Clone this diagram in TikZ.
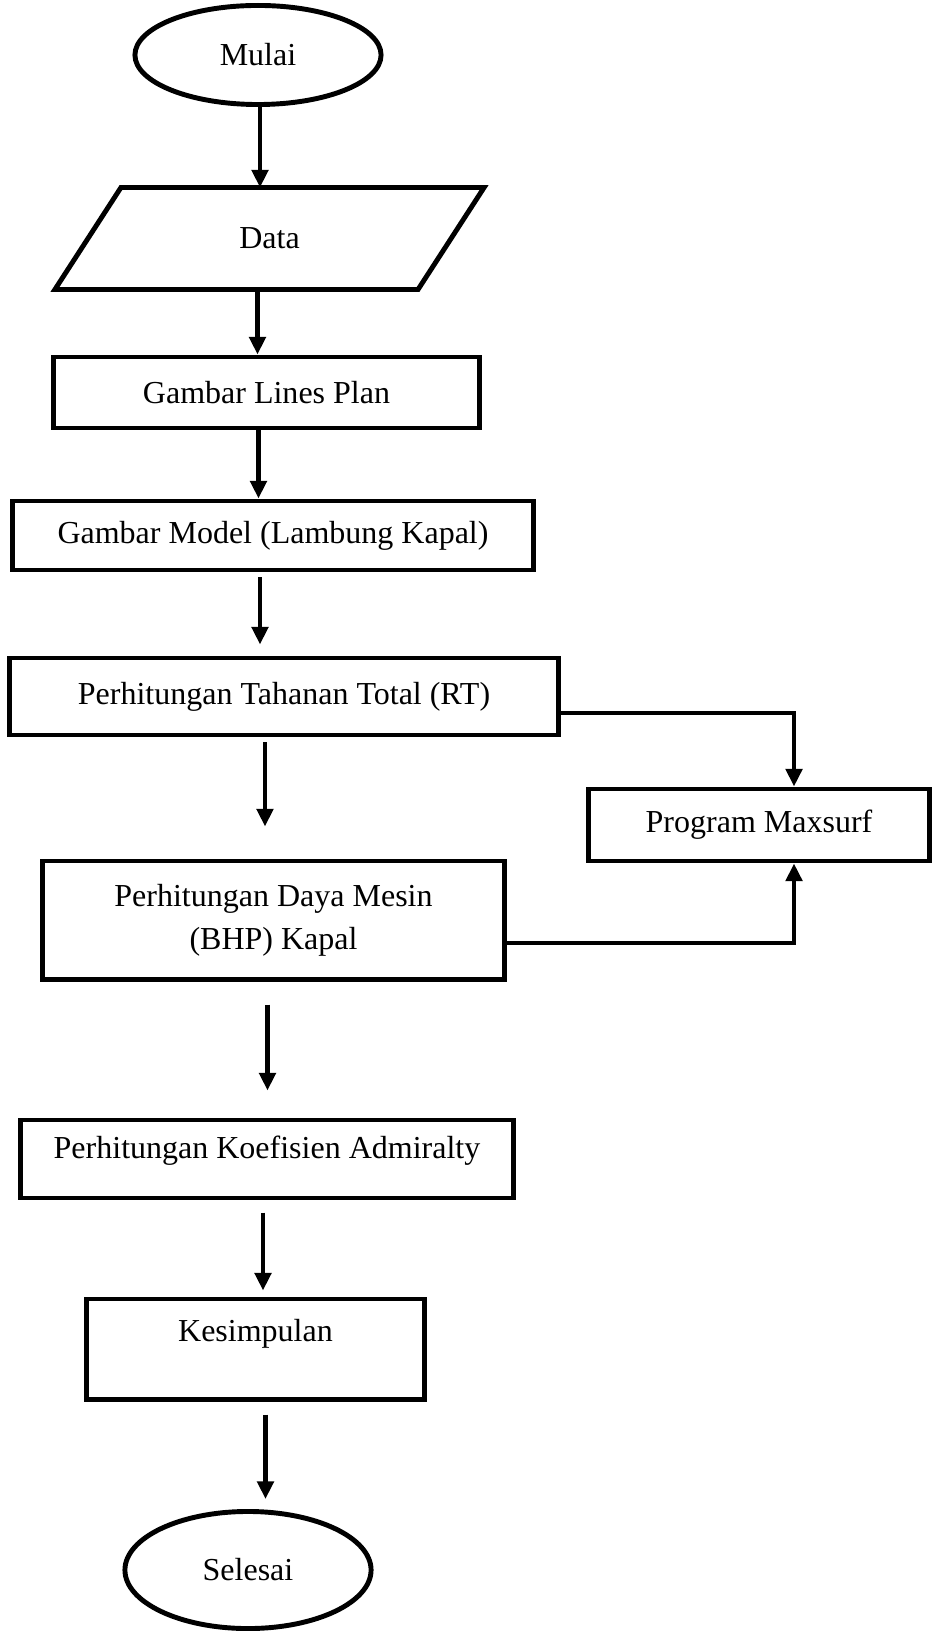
\documentclass[tikz,border=0pt]{standalone}
\usepackage{fontspec}
\setmainfont{Liberation Serif}
\usetikzlibrary{shapes.geometric,arrows.meta}
\begin{document}
\begin{tikzpicture}[x=0.01cm, y=-0.01cm]
		\tikzset{nd/.style={rectangle, draw=black, line width=1.4pt, inner sep=0pt, align=center, font=\fontsize{9.1}{12.2}\selectfont}};
		\tikzset{term/.style={nd, ellipse}};
		\tikzset{arr/.style={line width=1.3pt, -{Triangle[length=5pt, width=4.6pt]}}};

		\useasboundingbox (0, 0) rectangle (941, 1631);

		\node[term, minimum width=2.46cm, minimum height=0.99cm] (mulai) at (258, 55) {Mulai};
		\node[nd, draw=none, minimum width=3.58cm, minimum height=0.97cm] (data) at (269.5, 238.5) {Data};
		\node[nd, minimum width=4.25cm, minimum height=0.71cm] (lp) at (266.5, 392.5) {Gambar Lines Plan};
		\node[nd, minimum width=5.21cm, minimum height=0.69cm] (model) at (273, 535.5) {Gambar Model (Lambung Kapal)};
		\node[nd, minimum width=5.48cm, minimum height=0.77cm] (rt) at (284, 696.5) {Perhitungan Tahanan Total (RT)};
		\node[nd, minimum width=3.40cm, minimum height=0.72cm] (ms) at (759, 825) {Program Maxsurf};
		\node[nd, minimum width=4.61cm, minimum height=1.18cm] (bhp) at (273.5, 920) {Perhitungan Daya Mesin\\(BHP) Kapal};
		\node[nd, minimum width=4.92cm, minimum height=0.78cm, text depth=0.24cm] (adm) at (267, 1159) {Perhitungan Koefisien Admiralty};
		\node[nd, minimum width=3.37cm, minimum height=1.00cm, text depth=0.38cm] (kes) at (255.5, 1349) {Kesimpulan};
		\node[term, minimum width=2.46cm, minimum height=1.17cm] (selesai) at (248, 1570) {Selesai};

		\draw[line width=1.4pt] ([xshift=0.33cm]data.north west) -- ([xshift=0.33cm]data.north east)
			-- ([xshift=-0.33cm]data.south east) -- ([xshift=-0.33cm]data.south west) -- cycle;

		\draw[arr] ([xshift=0.02cm]mulai.south) -- ([xshift=0.02cm]mulai.south |- data.north);
		\draw[arr] ([xshift=-0.12cm]data.south) -- ([xshift=-0.12cm]data.south |- lp.north);
		\draw[arr] ([xshift=-0.08cm]lp.south) -- ([xshift=-0.08cm]lp.south |- model.north);
		\draw[arr, shorten <=0.05cm, shorten >=0.11cm] ([xshift=-0.13cm]model.south) -- ([xshift=-0.13cm]model.south |- rt.north);
		\draw[arr, shorten <=0.05cm, shorten >=0.32cm] ([xshift=-0.19cm]rt.south) -- ([xshift=-0.19cm]rt.south |- bhp.north);
		\draw[arr, shorten <=0.23cm, shorten >=0.27cm] ([xshift=-0.06cm]bhp.south) -- ([xshift=-0.06cm]bhp.south |- adm.north);
		\draw[arr, shorten <=0.12cm, shorten >=0.06cm] ([xshift=-0.04cm]adm.south) -- ([xshift=-0.04cm]adm.south |- kes.north);
		\draw[arr, shorten <=0.13cm, shorten >=0.10cm] ([xshift=0.10cm]kes.south) -- ([xshift=0.10cm]kes.south |- selesai.north);

		\draw[arr] ([yshift=-0.165cm]rt.east) -| ([xshift=0.35cm]ms.north);
		\draw[arr] ([yshift=-0.23cm]bhp.east) -| ([xshift=0.35cm]ms.south);

	\end{tikzpicture}
\end{document}
